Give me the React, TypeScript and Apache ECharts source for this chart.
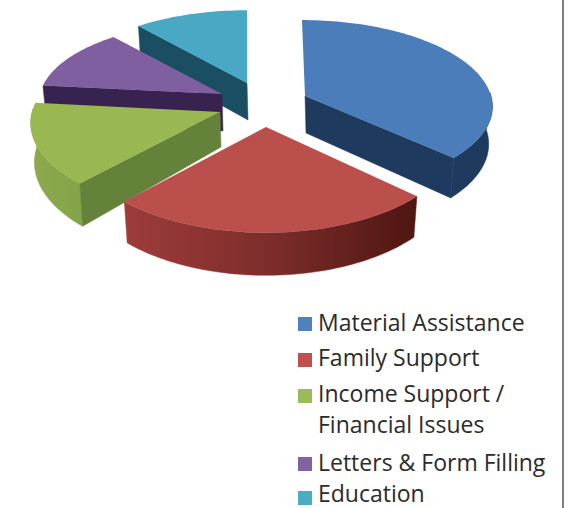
import React, { useEffect, useRef } from "react";
import * as echarts from "echarts";

const CATEGORIES = ["Material Assistance", "Family Support", "Income Support / Financial Issues", "Letters & Form Filling", "Education"];
const VALUES = [37, 24.9, 14.8, 12.2, 11.1];
const LEGEND_LINES = [["Material Assistance"], ["Family Support"], ["Income Support /", "Financial Issues"], ["Letters & Form Filling"], ["Education"]];

const TOP_COLORS = ["#4b7dbb", "#bb4f4c", "#9ab852", "#7f5fa0", "#49a8c4"];
const LEGEND_COLORS = ["#4f81bd", "#c0504d", "#9bbb59", "#8064a2", "#4bacc6"];
const RADIAL_COLORS = ["#1e3a5e", "#5a1a16", "#64823a", "#38224f", "#1a4f63"];

const hGrad = (stops: string[]) =>
  new echarts.graphic.LinearGradient(0, 0, 1, 0, stops.map((color, i) => ({ offset: i / (stops.length - 1), color })));
const ARC_FILLS = [
  () => "#1e3a5e",
  () => hGrad(["#9e3c3a", "#7c2d2b", "#4f1611"]),
  () => hGrad(["#8dab4d", "#84a247"]),
  () => "#38224f",
  () => "#1a4f63",
];

// projected geometry of each exploded slice: apex, radii, perspective, rim depth, apex depth, shear
const GEOM = [
  { ax: 305, ay: 96, B: 186, A: 84, p: 0.106, d: 37, ad: 37, sh: 0.04 },
  { ax: 266, ay: 127, B: 190, A: 93, p: 0.12, d: 37.5, ad: 38, sh: 0 },
  { ax: 220, ay: 112, B: 188, A: 89, p: 0.12, d: 39, ad: 35, sh: 0 },
  { ax: 222, ay: 94, B: 182, A: 80, p: 0.1, d: 37, ad: 37, sh: 0 },
  { ax: 247, ay: 83, B: 182, A: 80, p: 0.1, d: 37, ad: 37, sh: 0 },
];
const DRAW_ORDER = [4, 3, 0, 2, 1];
const LEGEND_SWATCH_Y = [317, 353, 389, 457, 491];
const LEGEND_TEXT_Y = [[322], [357], [393, 424], [462], [493]];

const total = VALUES.reduce((a, b) => a + b, 0);
const startDeg = VALUES.map((_, i) => (VALUES.slice(0, i).reduce((a, b) => a + b, 0) / total) * 360);
const endDeg = VALUES.map((v, i) => startDeg[i] + (v / total) * 360);

function project(i: number, deg: number, bottom: boolean): number[] {
  const g = GEOM[i];
  const t = (deg * Math.PI) / 180;
  const u = Math.sin(t);
  const v = Math.cos(t);
  const f = 1 / (1 + g.p * v);
  const y = -g.A * v * f;
  const x = g.B * u * f + g.sh * y;
  if (!bottom) return [g.ax + x, g.ay + y];
  return [g.ax + x * 0.98, g.ay + y + g.d * f];
}
function apex(i: number, bottom: boolean): number[] {
  const g = GEOM[i];
  return bottom ? [g.ax + 1, g.ay + g.ad] : [g.ax, g.ay];
}
function arcPts(i: number, a: number, b: number, bottom: boolean): number[][] {
  const n = Math.max(1, Math.ceil(Math.abs(b - a) / 1.5));
  const out: number[][] = [];
  for (let k = 0; k <= n; k++) out.push(project(i, a + ((b - a) * k) / n, bottom));
  return out;
}
function renderSlice(i: number) {
  return () => {
    const s = startDeg[i];
    const e = endDeg[i];
    const children: any[] = [];
    const a0 = Math.max(s, 88);
    const a1 = Math.min(e, 272);
    if (a1 > a0) {
      const pts = [...arcPts(i, a0, a1, false), ...arcPts(i, a1, a0, true)];
      const fill = ARC_FILLS[i]();
      children.push({ type: "polygon", shape: { points: pts }, style: { fill, stroke: fill, lineWidth: 0.5 } });
    }
    const wallDeg = e <= 180 ? e : s >= 180 ? s : -1;
    if (wallDeg >= 0) {
      children.push({
        type: "polygon",
        shape: { points: [apex(i, false), project(i, wallDeg, false), project(i, wallDeg, true), apex(i, true)] },
        style: { fill: RADIAL_COLORS[i], stroke: RADIAL_COLORS[i], lineWidth: 0.5 },
      });
    }
    children.push({
      type: "polygon",
      shape: { points: [apex(i, false), ...arcPts(i, s, e, false)] },
      style: { fill: TOP_COLORS[i] },
    });
    return { type: "group", children };
  };
}

export default function App() {
  const ref = useRef<HTMLDivElement>(null);
  useEffect(() => {
    const chart = echarts.init(ref.current!, undefined, { renderer: "svg" });
    const legend: any[] = [];
    LEGEND_LINES.forEach((lines, i) => {
      legend.push({ type: "rect", shape: { x: 298, y: LEGEND_SWATCH_Y[i], width: 14, height: 14 }, style: { fill: LEGEND_COLORS[i] } });
      lines.forEach((line, k) => {
        legend.push({
          type: "text",
          x: 318,
          y: LEGEND_TEXT_Y[i][k],
          style: { text: line, fill: "#2b2b2b", font: '23px "Open Sans"', lineHeight: 24, textAlign: "left", textVerticalAlign: "middle" },
        });
      });
    });
    legend.push({ type: "line", shape: { x1: 563, y1: 0, x2: 563, y2: 508 }, style: { stroke: "#555", lineWidth: 1.5 } });
    chart.setOption({
      animation: false,
      backgroundColor: "#fff",
      graphic: legend,
      series: DRAW_ORDER.map((i, order) => ({
        type: "custom",
        name: CATEGORIES[i],
        coordinateSystem: "none",
        z: order + 2,
        silent: true,
        renderItem: renderSlice(i),
        data: [VALUES[i]],
      })),
    });
    return () => chart.dispose();
  }, []);
  return <div ref={ref} style={{ position: "absolute", left: 0, top: 0, width: 579, height: 508 }} />;
}
